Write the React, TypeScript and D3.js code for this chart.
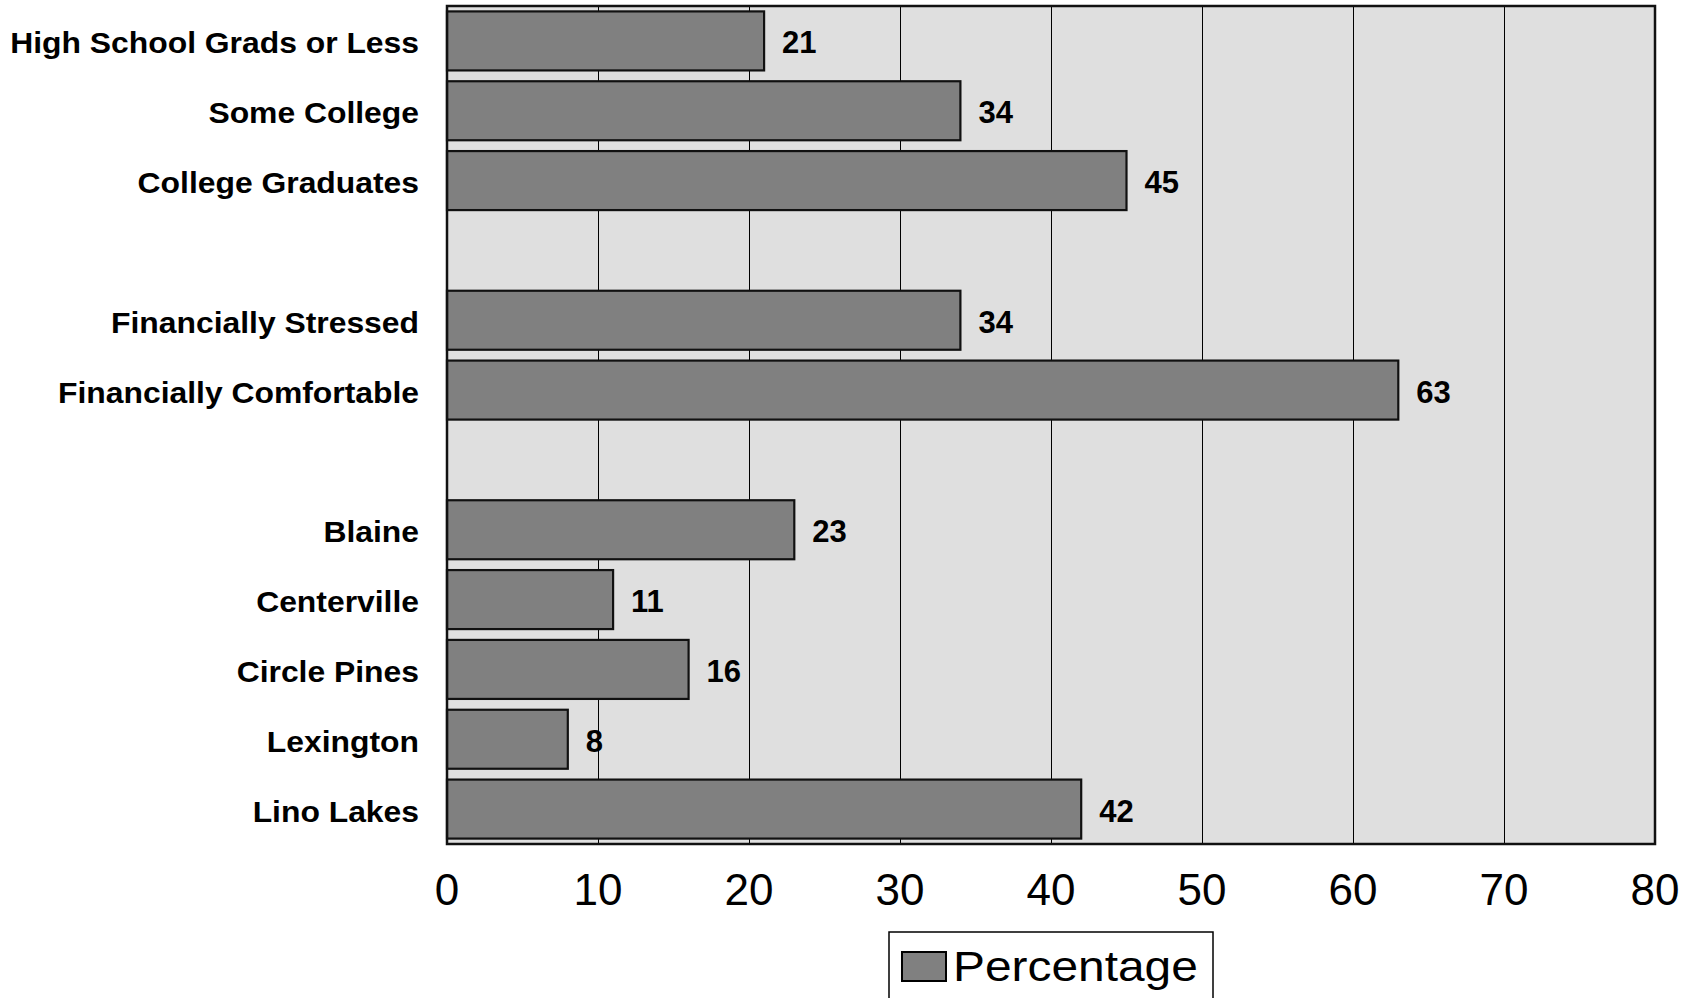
import React from "react";
import * as d3 from "d3";

const categories: string[] = [
  "High School Grads or Less",
  "Some College",
  "College Graduates",
  "",
  "Financially Stressed",
  "Financially Comfortable",
  "",
  "Blaine",
  "Centerville",
  "Circle Pines",
  "Lexington",
  "Lino Lakes",
];
const values: (number | null)[] = [21, 34, 45, null, 34, 63, null, 23, 11, 16, 8, 42];
const xTicks: number[] = [0, 10, 20, 30, 40, 50, 60, 70, 80];
const seriesName = "Percentage";

const W = 1698;
const H = 998;
const plot = { left: 447, right: 1655, top: 6, bottom: 844 };
const FONT = "'Liberation Sans', Arial, Helvetica, sans-serif";

export default function App() {
  const x = d3.scaleLinear().domain([0, 80]).range([plot.left, plot.right]);
  const y = d3
    .scaleBand<number>()
    .domain(categories.map((_, i) => i))
    .range([plot.top, plot.bottom])
    .paddingInner(0.155)
    .paddingOuter(0.0775);

  return (
    <svg
      width={W}
      height={H}
      style={{ position: "absolute", left: 0, top: 0, display: "block", background: "#fff" }}
    >
      <rect
        x={plot.left}
        y={plot.top}
        width={plot.right - plot.left}
        height={plot.bottom - plot.top}
        fill="#dfdfdf"
      />
      {xTicks.slice(1, -1).map((t) => (
        <line
          key={"g" + t}
          x1={Math.round(x(t)) + 0.5}
          x2={Math.round(x(t)) + 0.5}
          y1={plot.top}
          y2={plot.bottom}
          stroke="#000"
          strokeWidth={1}
        />
      ))}
      {values.map((v, i) =>
        v == null ? null : (
          <g key={"b" + i}>
            <rect
              x={x(0)}
              y={y(i)!}
              width={x(v) - x(0)}
              height={y.bandwidth()}
              fill="#808080"
              stroke="#111"
              strokeWidth={2.2}
            />
            <text
              x={x(v) + 18}
              y={y(i)! + y.bandwidth() / 2 + 12.5}
              fontFamily={FONT}
              fontWeight="bold"
              fontSize={31}
              fill="#000"
            >
              {v}
            </text>
          </g>
        )
      )}
      <rect
        x={plot.left}
        y={plot.top}
        width={plot.right - plot.left}
        height={plot.bottom - plot.top}
        fill="none"
        stroke="#111"
        strokeWidth={2.5}
      />
      {categories.map((c, i) =>
        c ? (
          <text
            key={"c" + i}
            transform={`translate(419,${y(i)! + y.bandwidth() / 2 + 12.5}) scale(1.08,1)`}
            textAnchor="end"
            fontFamily={FONT}
            fontWeight="bold"
            fontSize={29.5}
            fill="#000"
          >
            {c}
          </text>
        ) : null
      )}
      {xTicks.map((t) => (
        <text
          key={"t" + t}
          x={x(t)}
          y={905}
          textAnchor="middle"
          fontFamily={FONT}
          fontSize={44}
          fill="#000"
        >
          {t}
        </text>
      ))}
      <rect x={889} y={932} width={324} height={90} fill="#fff" stroke="#000" strokeWidth={1.5} />
      <rect x={902} y={952} width={44} height={29} fill="#808080" stroke="#000" strokeWidth={2} />
      <text
        transform="translate(953,981) scale(1.14,1)"
        fontFamily={FONT}
        fontSize={42}
        fill="#000"
      >
        {seriesName}
      </text>
    </svg>
  );
}
